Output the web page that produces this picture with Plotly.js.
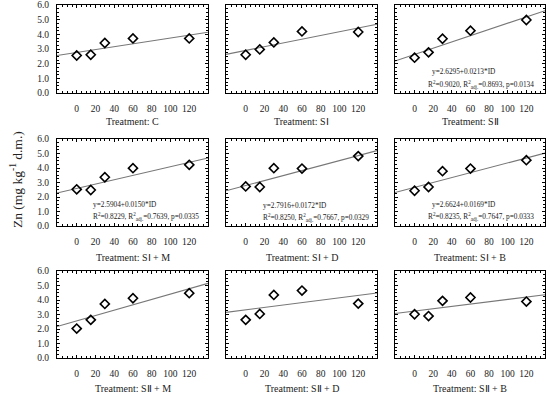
<!DOCTYPE html>
<html>
<head>
<meta charset="utf-8">
<script src="https://cdn.plot.ly/plotly-3.0.1.min.js"></script>
<style>html,body{margin:0;padding:0;background:#fff;}#chart{width:550px;height:395px;}</style>
</head>
<body>
<div id="chart"></div>
<script>
// ---- data ----
const doses = [0, 15, 30, 60, 120];
const treatments = ['C', 'SⅠ', 'SⅡ', 'SⅠ + M', 'SⅠ + D', 'SⅠ + B', 'SⅡ + M', 'SⅡ + D', 'SⅡ + B'];
const zn_C     = [2.56, 2.61, 3.41, 3.72, 3.72];
const zn_SI    = [2.61, 2.97, 3.45, 4.20, 4.16];
const zn_SII   = [2.41, 2.77, 3.70, 4.25, 4.98];
const zn_SI_M  = [2.53, 2.48, 3.36, 3.99, 4.22];
const zn_SI_D  = [2.73, 2.69, 3.99, 3.96, 4.82];
const zn_SI_B  = [2.43, 2.69, 3.78, 3.96, 4.54];
const zn_SII_M = [2.03, 2.63, 3.73, 4.12, 4.47];
const zn_SII_D = [2.63, 3.04, 4.35, 4.65, 3.75];
const zn_SII_B = [3.02, 2.89, 3.94, 4.17, 3.89];
const intercepts = [2.76, 2.90, 2.6295, 2.5904, 2.7916, 2.6624, 2.56, 3.32, 3.24];
const slopes     = [0.0099, 0.0128, 0.0213, 0.0150, 0.0172, 0.0169, 0.0185, 0.0083, 0.0080];
const eqLine1 = {2: 'y=2.6295+0.0213*ID', 3: 'y=2.5904+0.0150*ID', 4: 'y=2.7916+0.0172*ID', 5: 'y=2.6624+0.0169*ID'};
const eqLine2 = {
  2: 'R<sup>2</sup>=0.9020, R<sup>2</sup><sub>adj.</sub>=0.8693, p=0.0134',
  3: 'R<sup>2</sup>=0.8229, R<sup>2</sup><sub>adj.</sub>=0.7639, p=0.0335',
  4: 'R<sup>2</sup>=0.8250, R<sup>2</sup><sub>adj.</sub>=0.7667, p=0.0329',
  5: 'R<sup>2</sup>=0.8235, R<sup>2</sup><sub>adj.</sub>=0.7647, p=0.0333'
};
const yTickVals = [0, 1, 2, 3, 4, 5, 6];
const xTickVals = [0, 20, 40, 60, 80, 100, 120];
const series = [zn_C, zn_SI, zn_SII, zn_SI_M, zn_SI_D, zn_SI_B, zn_SII_M, zn_SII_D, zn_SII_B];

// ---- layout geometry ----
const W = 550, H = 395;
const xRange = [-21, 140];
const colPx = [[57, 208], [226, 377], [395, 545]];
const rowPx = [[5, 93], [139, 226], [271, 358]];
const titlePx = [122, 257, 388];
const eqPx = {
  2: [[431, 72], [427, 84]],
  3: [[92, 204], [92, 216]],
  4: [[262, 205], [262, 217]],
  5: [[431, 204], [427, 216]]
};
const serif = 'Liberation Serif, Times New Roman, serif';

const traces = [];
const layout = {
  width: W, height: H,
  margin: {l: 0, r: 0, t: 0, b: 0},
  paper_bgcolor: '#fff', plot_bgcolor: '#fff',
  showlegend: false,
  font: {family: serif, color: '#222', size: 9},
  annotations: []
};

series.forEach((ys, i) => {
  const r = Math.floor(i / 3), c = i % 3;
  const ax = i === 0 ? '' : String(i + 1);
  const xa = 'x' + ax, ya = 'y' + ax;
  traces.push({
    x: xRange, y: xRange.map(v => intercepts[i] + slopes[i] * v),
    xaxis: xa, yaxis: ya, mode: 'lines', type: 'scatter',
    line: {color: '#777', width: 1.1}, hoverinfo: 'skip'
  });
  traces.push({
    x: doses, y: ys, xaxis: xa, yaxis: ya, mode: 'markers', type: 'scatter',
    marker: {symbol: 'diamond-open', size: 7, color: '#000', line: {width: 1.6, color: '#000'}}
  });
  layout['xaxis' + ax] = {
    domain: [colPx[c][0] / W, colPx[c][1] / W], anchor: ya, range: xRange,
    tickvals: xTickVals, ticks: 'inside', ticklen: 3, tickcolor: '#000',
    showline: true, linecolor: '#000', linewidth: 1, mirror: 'allticks',
    showgrid: false, zeroline: false, ticklabelstandoff: 7,
    tickfont: {family: serif, size: 9.5, color: '#222'},
    minor: {dtick: 5, ticks: 'inside', ticklen: 2, tickcolor: '#000', showgrid: false}
  };
  layout['yaxis' + ax] = {
    domain: [1 - rowPx[r][1] / H, 1 - rowPx[r][0] / H], anchor: xa, range: [0, 6],
    tickvals: yTickVals, tickformat: '.1f', ticks: 'inside', ticklen: 3, tickcolor: '#000',
    showline: true, linecolor: '#000', linewidth: 1, mirror: 'allticks',
    showgrid: false, zeroline: false, showticklabels: c === 0, ticklabelstandoff: 5,
    tickfont: {family: serif, size: 9.5, color: '#222'},
    minor: {dtick: 0.25, ticks: 'inside', ticklen: 2, tickcolor: '#000', showgrid: false}
  };
  layout.annotations.push({
    xref: 'paper', yref: 'paper',
    x: (colPx[c][0] + colPx[c][1]) / 2 / W, y: 1 - titlePx[r] / H,
    xanchor: 'center', yanchor: 'middle', showarrow: false,
    text: 'Treatment: ' + treatments[i],
    font: {family: serif, size: 10, color: '#222'}
  });
  if (eqLine1[i]) {
    [eqLine1[i], eqLine2[i]].forEach((t, k) => {
      layout.annotations.push({
        xref: 'paper', yref: 'paper',
        x: eqPx[i][k][0] / W, y: 1 - eqPx[i][k][1] / H,
        xanchor: 'left', yanchor: 'middle', showarrow: false, borderpad: 0,
        text: t, font: {family: serif, size: 7.3, color: '#222'}
      });
    });
  }
});

layout.annotations.push({
  xref: 'paper', yref: 'paper', x: 16 / W, y: 1 - 180 / H,
  xanchor: 'center', yanchor: 'middle', showarrow: false, textangle: -90,
  text: 'Zn (mg kg<sup>-1</sup> d.m.)', font: {family: serif, size: 13.5, color: '#222'}
});

Plotly.newPlot('chart', traces, layout, {staticPlot: true, displayModeBar: false});
</script>
</body>
</html>
